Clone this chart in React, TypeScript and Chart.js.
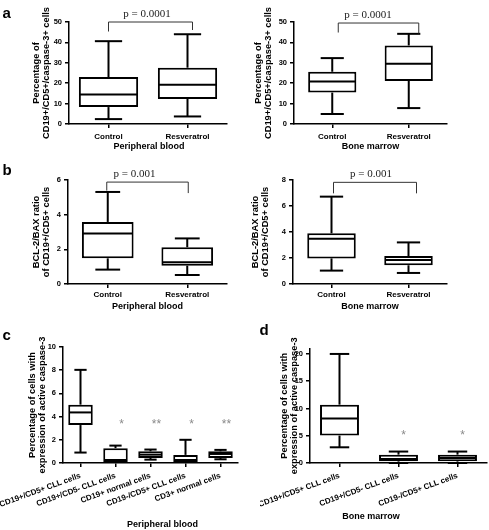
import React, { useEffect, useRef } from 'react';
import { Chart, registerables } from 'chart.js';

Chart.register(...registerables);

const SANS = '"Liberation Sans", Arial, Helvetica, sans-serif';
const SERIF = '"Liberation Serif", "Times New Roman", serif';

// ---------- Panel a, left: peripheral blood ----------
const aPbLabels = ['Control', 'Resveratrol'];
const aPbMin = [2.4, 3.7];
const aPbQ1 = [8.3, 12.3];
const aPbMedian = [14.4, 19.2];
const aPbQ3 = [23.0, 27.6];
const aPbMax = [40.6, 44.0];
const aPbTicks = [0, 10, 20, 30, 40, 50];

// ---------- Panel a, right: bone marrow ----------
const aBmLabels = ['Control', 'Resveratrol'];
const aBmMin = [4.9, 7.8];
const aBmQ1 = [15.4, 21.1];
const aBmMedian = [20.8, 29.5];
const aBmQ3 = [25.6, 38.5];
const aBmMax = [32.3, 44.2];
const aBmTicks = [0, 10, 20, 30, 40, 50];

// ---------- Panel b, left: peripheral blood ----------
const bPbLabels = ['Control', 'Resveratrol'];
const bPbMin = [0.83, 0.52];
const bPbQ1 = [1.48, 1.06];
const bPbMedian = [2.92, 1.25];
const bPbQ3 = [3.58, 2.12];
const bPbMax = [5.31, 2.63];
const bPbTicks = [0, 2, 4, 6];

// ---------- Panel b, right: bone marrow ----------
const bBmLabels = ['Control', 'Resveratrol'];
const bBmMin = [1.03, 0.85];
const bBmQ1 = [1.97, 1.44];
const bBmMedian = [3.49, 1.85];
const bBmQ3 = [3.9, 2.15];
const bBmMax = [6.72, 3.2];
const bBmTicks = [0, 2, 4, 6, 8];

// ---------- Panel c: peripheral blood ----------
const cLabels = [
  'CD19+/CD5+ CLL cells',
  'CD19+/CD5- CLL cells',
  'CD19+ normal cells',
  'CD19-/CD5+ CLL cells',
  'CD3+ normal cells',
];
const cMin = [0.9, 0, 0.29, 0, 0.32];
const cQ1 = [3.27, 0, 0.43, 0, 0.43];
const cMedian = [4.36, 0.26, 0.72, 0.26, 0.78];
const cQ3 = [5.03, 1.28, 1.01, 0.7, 1.01];
const cMax = [8.03, 1.5, 1.16, 2.0, 1.13];
const cTicks = [0, 2, 4, 6, 8, 10];
const cStars = ['', '*', '**', '*', '**'];

// ---------- Panel d: bone marrow ----------
const dLabels = ['CD19+/CD5+ CLL cells', 'CD19+/CD5- CLL cells', 'CD19-/CD5+ CLL cells'];
const dMin = [2.88, 0, 0];
const dQ1 = [5.03, 0.3, 0.3];
const dMedian = [8.16, 0.74, 0.92];
const dQ3 = [10.7, 1.53, 1.53];
const dMax = [20.0, 2.1, 2.1];
const dTicks = [0, 5, 10, 15, 20];
const dStars = ['', '*', '*'];

type Rect = { x: number; y: number; w: number; h: number };
type Area = { l: number; t: number; r: number; b: number };
type Spec = {
  labels: string[];
  min: number[];
  q1: number[];
  med: number[];
  q3: number[];
  max: number[];
  yTicks: number[];
  yMax: number;
  yTitle: string[];
  xTitle: string;
  canvas: Rect;
  area: Area;
  barFrac: number;
  capFrac: number;
  yTitleCenter: number;
  xTitleY: number;
  xTitleDx: number;
  rotation: number;
  labelPad: number;
  bracket?: { value: number; text: string; dl: number; dr: number; dropL: number; dropR: number; textDx: number };
  stars?: { texts: string[]; value: number; dx: number };
};

const specs: Spec[] = [
  {
    labels: aPbLabels, min: aPbMin, q1: aPbQ1, med: aPbMedian, q3: aPbQ3, max: aPbMax,
    yTicks: aPbTicks, yMax: 50,
    yTitle: ['Percentage of', 'CD19+/CD5+/caspase-3+ cells'], xTitle: 'Peripheral blood',
    canvas: { x: 0, y: 0, w: 245, h: 158 }, area: { l: 69, t: 22, r: 227, b: 124 },
    barFrac: 0.75, capFrac: 0.46, yTitleCenter: 36, xTitleY: 147, xTitleDx: 1,
    rotation: 0, labelPad: 4,
    bracket: { value: 50, text: 'p = 0.0001', dl: 0, dr: 5, dropL: 9.5, dropR: 8, textDx: -1 },
  },
  {
    labels: aBmLabels, min: aBmMin, q1: aBmQ1, med: aBmMedian, q3: aBmQ3, max: aBmMax,
    yTicks: aBmTicks, yMax: 50,
    yTitle: ['Percentage of', 'CD19+/CD5+/caspase-3+ cells'], xTitle: 'Bone marrow',
    canvas: { x: 245, y: 0, w: 244, h: 158 }, area: { l: 294, t: 22, r: 447, b: 124 },
    barFrac: 0.63, capFrac: 0.48, yTitleCenter: 258, xTitleY: 147, xTitleDx: 0,
    rotation: 0, labelPad: 4,
    bracket: { value: 49.5, text: 'p = 0.0001', dl: 6, dr: 10, dropL: 9.5, dropR: 10.5, textDx: -2.5 },
  },
  {
    labels: bPbLabels, min: bPbMin, q1: bPbQ1, med: bPbMedian, q3: bPbQ3, max: bPbMax,
    yTicks: bPbTicks, yMax: 6,
    yTitle: ['BCL-2/BAX ratio', 'of CD19+/CD5+ cells'], xTitle: 'Peripheral blood',
    canvas: { x: 0, y: 160, w: 245, h: 153 }, area: { l: 68, t: 180, r: 227, b: 284 },
    barFrac: 0.65, capFrac: 0.48, yTitleCenter: 36, xTitleY: 306.5, xTitleDx: 0,
    rotation: 0, labelPad: 2,
    bracket: { value: 5.88, text: 'p = 0.001', dl: -1, dr: 1, dropL: 8.5, dropR: 11, textDx: -13 },
  },
  {
    labels: bBmLabels, min: bBmMin, q1: bBmQ1, med: bBmMedian, q3: bBmQ3, max: bBmMax,
    yTicks: bBmTicks, yMax: 8,
    yTitle: ['BCL-2/BAX ratio', 'of CD19+/CD5+ cells'], xTitle: 'Bone marrow',
    canvas: { x: 245, y: 160, w: 244, h: 153 }, area: { l: 293, t: 180, r: 447, b: 284 },
    barFrac: 0.63, capFrac: 0.48, yTitleCenter: 255, xTitleY: 306.5, xTitleDx: 0,
    rotation: 0, labelPad: 2,
    bracket: { value: 7.82, text: 'p = 0.001', dl: 2, dr: 8, dropL: 11, dropR: 11, textDx: 1 },
  },
  {
    labels: cLabels, min: cMin, q1: cQ1, med: cMedian, q3: cQ3, max: cMax,
    yTicks: cTicks, yMax: 10,
    yTitle: ['Percentage of cells with', 'expression of active caspase-3'], xTitle: 'Peripheral blood',
    canvas: { x: 0, y: 315, w: 260, h: 215 }, area: { l: 63, t: 347, r: 238, b: 463 },
    barFrac: 0.7, capFrac: 0.5, yTitleCenter: 32.5, xTitleY: 525, xTitleDx: 12,
    rotation: 20, labelPad: 4,
    stars: { texts: cStars, value: 3.58, dx: 6 },
  },
  {
    labels: dLabels, min: dMin, q1: dQ1, med: dMedian, q3: dQ3, max: dMax,
    yTicks: dTicks, yMax: 21,
    yTitle: ['Percentage of cells with', 'expression of active caspase-3'], xTitle: 'Bone marrow',
    canvas: { x: 260, y: 315, w: 229, h: 215 }, area: { l: 310, t: 348.5, r: 487, b: 463 },
    barFrac: 0.66, capFrac: 0.5, yTitleCenter: 284, xTitleY: 517, xTitleDx: -27.5,
    rotation: 20, labelPad: 4,
    stars: { texts: dStars, value: 5.6, dx: 5 },
  },
];

function extrasPlugin(s: Spec) {
  return {
    id: 'boxExtras',
    afterDatasetsDraw(chart: any) {
      const ctx = chart.ctx as CanvasRenderingContext2D;
      const xs = chart.scales.x;
      const ys = chart.scales.y;
      const meta = chart.getDatasetMeta(0);
      ctx.save();
      ctx.strokeStyle = '#000';
      ctx.lineWidth = 2;
      ctx.lineCap = 'butt';
      const line = (x1: number, y1: number, x2: number, y2: number) => {
        ctx.beginPath();
        ctx.moveTo(x1, y1);
        ctx.lineTo(x2, y2);
        ctx.stroke();
      };
      s.labels.forEach((_, i) => {
        const bar = meta.data[i];
        const w = bar.width;
        const cx = xs.getPixelForValue(i);
        const yMin = ys.getPixelForValue(s.min[i]);
        const yQ1 = ys.getPixelForValue(s.q1[i]);
        const yMed = ys.getPixelForValue(s.med[i]);
        const yQ3 = ys.getPixelForValue(s.q3[i]);
        const yMax = ys.getPixelForValue(s.max[i]);
        const cap = (w * s.capFrac) / 2;
        if (yMax < yQ3) {
          line(cx, yQ3, cx, yMax);
          line(cx - cap, yMax, cx + cap, yMax);
        }
        if (yMin > yQ1) {
          line(cx, yQ1, cx, yMin);
          line(cx - cap, yMin, cx + cap, yMin);
        }
        line(cx - w / 2 + 1, yMed, cx + w / 2 - 1, yMed);
      });
      ctx.restore();
    },
    afterDraw(chart: any) {
      const ctx = chart.ctx as CanvasRenderingContext2D;
      const xs = chart.scales.x;
      const ys = chart.scales.y;
      const ca = chart.chartArea;
      const ox = s.canvas.x;
      const oy = s.canvas.y;
      ctx.save();
      // x axis title
      ctx.fillStyle = '#000';
      ctx.font = `bold 9px ${SANS}`;
      ctx.textAlign = 'center';
      ctx.textBaseline = 'middle';
      ctx.fillText(s.xTitle, (ca.left + ca.right) / 2 + s.xTitleDx, s.xTitleY - oy);
      // significance bracket
      if (s.bracket) {
        const b = s.bracket;
        const x1 = xs.getPixelForValue(0) + b.dl;
        const x2 = xs.getPixelForValue(1) + b.dr;
        const y = ys.getPixelForValue(b.value);
        ctx.strokeStyle = '#333';
        ctx.lineWidth = 1;
        ctx.beginPath();
        ctx.moveTo(x1, y + b.dropL);
        ctx.lineTo(x1, y);
        ctx.lineTo(x2, y);
        ctx.lineTo(x2, y + b.dropR);
        ctx.stroke();
        ctx.fillStyle = '#222';
        ctx.font = `11px ${SERIF}`;
        ctx.textBaseline = 'alphabetic';
        ctx.fillText(b.text, (xs.getPixelForValue(0) + xs.getPixelForValue(1)) / 2 + b.textDx, y - 5.5);
      }
      // asterisks
      if (s.stars) {
        const st = s.stars;
        ctx.fillStyle = '#8a8a8a';
        ctx.font = `12px ${SANS}`;
        ctx.textBaseline = 'alphabetic';
        st.texts.forEach((t, i) => {
          if (!t) return;
          ctx.fillText(t, xs.getPixelForValue(i) + st.dx, ys.getPixelForValue(st.value) + 7);
        });
      }
      ctx.restore();
      void ox;
    },
  };
}

function BoxPanel({ spec }: { spec: Spec }) {
  const ref = useRef<HTMLCanvasElement | null>(null);
  useEffect(() => {
    const s = spec;
    const { canvas: c, area } = s;
    const chart = new Chart(ref.current as HTMLCanvasElement, {
      type: 'bar',
      data: {
        labels: s.labels,
        datasets: [
          {
            data: s.q1.map((v, i) => [v, s.q3[i]]) as any,
            backgroundColor: '#ffffff',
            borderColor: '#000000',
            borderWidth: 2,
            borderSkipped: false,
            barPercentage: s.barFrac,
            categoryPercentage: 1,
          },
        ],
      },
      options: {
        responsive: false,
        animation: false,
        devicePixelRatio: 1,
        layout: { padding: { left: 0, right: c.x + c.w - area.r, top: area.t - c.y, bottom: 0 } },
        plugins: { legend: { display: false }, tooltip: { enabled: false }, title: { display: false } },
        scales: {
          x: {
            offset: true,
            grid: { display: true, drawOnChartArea: false, drawTicks: true, tickLength: 4, color: '#000', lineWidth: 1.5, offset: false },
            border: { display: true, color: '#000', width: 1.5 },
            ticks: {
              color: '#000',
              font: { family: SANS, size: 8, weight: 'bold' },
              padding: s.labelPad,
              minRotation: s.rotation,
              maxRotation: s.rotation,
              autoSkip: false,
            },
            afterFit: (sc: any) => {
              sc.height = c.y + c.h - area.b;
              sc.paddingLeft = 0;
              sc.paddingRight = 0;
            },
          },
          y: {
            min: s.yTicks[0],
            max: s.yMax,
            grid: { display: true, drawOnChartArea: false, drawTicks: true, tickLength: 4, color: '#000', lineWidth: 1.5 },
            border: { display: true, color: '#000', width: 1.5 },
            ticks: { color: '#000', font: { family: SANS, size: 7.5, weight: 'bold' }, padding: 3 },
            afterBuildTicks: (sc: any) => {
              sc.ticks = s.yTicks.map((v) => ({ value: v }));
            },
            afterFit: (sc: any) => {
              sc.width = area.l - c.x;
              sc.paddingTop = 0;
              sc.paddingBottom = 0;
            },
            title: {
              display: true,
              text: s.yTitle,
              color: '#000',
              font: { family: SANS, size: 9.3, weight: 'bold', lineHeight: 1.1 },
              padding: { top: s.yTitleCenter - c.x - 5.1, bottom: 0 },
            },
          },
        },
      } as any,
      plugins: [extrasPlugin(s) as any],
    });
    return () => chart.destroy();
  }, [spec]);
  const { canvas: c } = spec;
  return (
    <canvas
      ref={ref}
      width={c.w}
      height={c.h}
      style={{ position: 'absolute', left: c.x, top: c.y, width: c.w, height: c.h }}
    />
  );
}

const panelLetters = [
  { t: 'a', x: 2.5, y: 5 },
  { t: 'b', x: 2.5, y: 162 },
  { t: 'c', x: 2.5, y: 327 },
  { t: 'd', x: 259.5, y: 322 },
];

export default function App() {
  return (
    <div style={{ position: 'fixed', left: 0, top: 0, width: 489, height: 530, background: '#fff', overflow: 'hidden' }}>
      {specs.map((s, i) => (
        <BoxPanel key={i} spec={s} />
      ))}
      {panelLetters.map((p) => (
        <div
          key={p.t}
          style={{
            position: 'absolute',
            left: p.x,
            top: p.y,
            font: `bold 15px ${SANS}`,
            lineHeight: '15px',
            color: '#000',
          }}
        >
          {p.t}
        </div>
      ))}
    </div>
  );
}
